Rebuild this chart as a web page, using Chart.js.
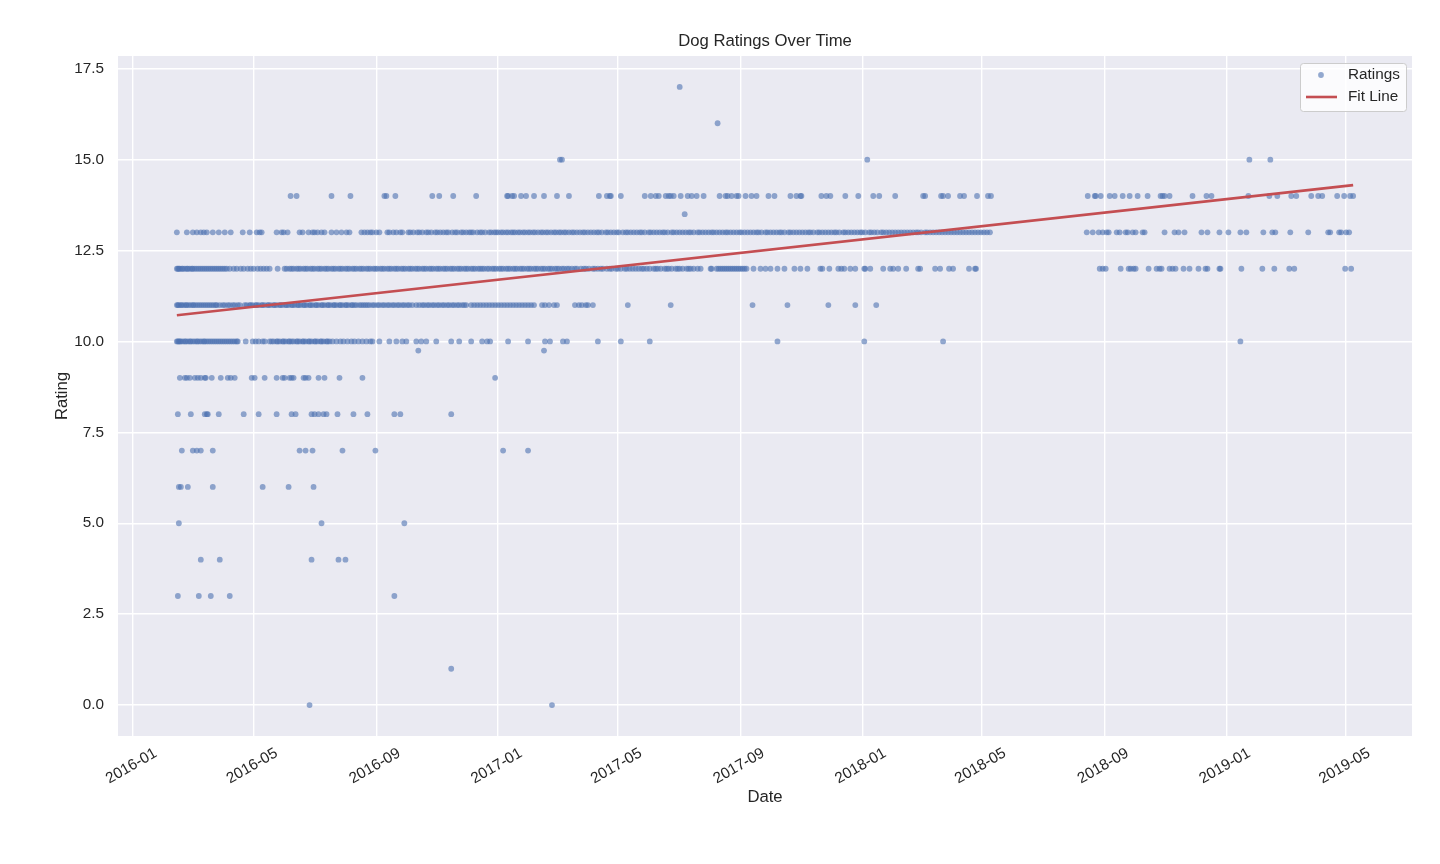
<!DOCTYPE html>
<html>
<head>
<meta charset="utf-8">
<title>Dog Ratings Over Time</title>
<script src="https://cdn.jsdelivr.net/npm/chart.js@4.4.1/dist/chart.umd.min.js"></script>
<style>
  html, body { margin: 0; padding: 0; background: #fff; }
  #wrap { width: 1440px; height: 864px; position: relative; }
</style>
</head>
<body>
<div id="wrap"><canvas id="ratingsChart"></canvas></div>
<script>
// Days are counted from 2016-01-01 (1 px ~ 1 day)
const daysAt0 = [177, 420];
const daysAt1 = [319];
const daysAt3 = [45, 66, 78, 97, 262];
const daysAt4 = [68, 87, 179, 206, 213];
const daysAt5 = [46, 189, 272];
const daysAt6 = [46, 48, 55, 80, 130, 156, 181];
const daysAt7 = [49, 60, 64, 68, 80, 167, 173, 180, 210, 243, 371, 396];
const daysAt8 = [45, 58, 72, 74, 75, 86, 111, 126, 144, 159, 163, 179, 182, 186, 191, 194, 205, 221, 235, 262, 268, 319];
const daysAt9 = [47, 52, 54, 57, 62, 65, 68, 72, 73, 79, 88, 95, 98, 102, 119, 122, 132, 144, 150, 152, 157, 159, 161, 171, 173, 176, 186, 192, 207, 230, 363];
const daysAt975 = [286, 412];
const daysAt10 = [44, 45, 46, 47, 48, 50, 52, 53, 55, 57, 58, 60, 62, 64, 65, 67, 69, 71, 72, 74, 76, 78, 80, 82, 84, 86, 88, 90, 92, 94, 96, 98, 100, 102, 104, 105,
  113, 120, 123, 126, 130, 132,
  137, 139, 141, 144, 145, 147, 150, 151, 153, 156, 157, 159, 161, 164, 165, 167, 170, 171, 173, 176, 177, 179, 182, 183, 185, 188, 189, 191, 194, 195, 197, 200,
  204, 208, 211, 215, 219, 222, 226, 230, 234, 238, 240,
  247, 257, 264, 270, 274, 284, 289, 294, 304, 319, 327, 339, 350, 355, 358, 376, 396, 413, 418, 431, 435, 466, 489, 518, 646, 733, 812, 1110];
const daysAt11 = [44, 45, 46, 48, 49, 51, 53, 54, 56, 58, 60, 61, 63, 65, 67, 69, 71, 73, 75, 77, 79, 81, 83, 84,
  87, 90, 92, 95, 97, 100, 102, 105, 107,
  112, 114, 117, 118, 120, 123, 124, 126, 129, 130, 132, 135, 136, 138, 141, 142, 144, 147, 148, 150, 153, 154, 156, 159, 160, 162, 165, 166, 168, 171, 172, 174,
  177, 178, 180, 183, 184, 186, 189, 190, 192, 195, 196, 198, 201, 202, 204, 207, 208, 210, 213, 214, 216, 219, 220, 222, 224, 227, 229, 231, 233, 235, 237,
  240, 242, 245, 247, 250, 252, 255, 257, 260, 262, 265, 267, 270, 272, 275, 277, 280, 284, 287, 290, 292, 295, 297, 300, 302, 305, 307, 310, 312, 315, 317,
  320, 322, 325, 327, 330, 332, 334,
  339, 342, 345, 348, 351, 354, 357, 360, 363, 366, 369, 372, 375, 378, 381, 384, 387, 390, 393, 396, 399, 402,
  410, 413, 417, 422, 425, 443, 447, 450, 454, 456, 461, 496, 539, 621, 656, 697, 724, 745];
const daysAt12 = [44, 45, 46, 47, 49, 50, 52, 54, 55, 57, 59, 60, 62, 64, 66, 68, 70, 72, 74, 76, 78, 80, 82, 84, 86, 88, 90, 92, 94,
  97, 101, 104, 108, 111, 115, 118, 121, 125, 128, 131, 134, 137, 145,
  152, 154, 157, 159, 161, 164, 166, 168, 171, 173, 175, 178, 180, 182, 185, 187, 189, 192, 194, 196, 199, 201, 203, 206, 208, 210, 213, 215, 217, 220,
  222, 224, 227, 229, 231, 234, 236, 238, 241, 243, 245, 248, 250, 252, 255, 257, 259, 262, 264, 266, 269, 271, 273, 276, 278, 280, 283, 285, 287, 290,
  292, 294, 297, 299, 301, 304, 306, 308, 311, 313, 315, 318, 320, 322, 325, 327, 329, 332, 334, 336, 339, 341, 343, 346, 348, 350, 352,
  355, 357, 360, 362, 364, 367, 369, 371, 374, 376, 378, 381, 383, 385, 388, 390, 392, 395, 397, 399, 402, 404, 406, 409, 411, 413, 416, 418, 420,
  423, 425, 427, 430, 432, 435, 437,
  440, 443, 445, 449, 452, 454, 457, 461, 463, 466, 469, 471, 475, 478, 480, 484, 486, 489, 493, 495, 498, 501, 504, 507, 510, 512, 515, 518, 522,
  524, 526, 529, 533, 535, 537, 540, 544, 546, 548, 551, 555, 557, 559, 562, 566, 569,
  579, 580, 585, 587, 589, 591, 593, 595, 597, 599, 601, 603, 605, 607, 609, 611, 613, 615, 622, 629, 634, 639, 646, 653, 663, 669, 676, 689, 691,
  698, 707, 710, 713, 719, 724, 733, 734, 739, 752, 759, 762, 767, 775, 787, 789, 804, 809, 818, 822, 838, 844, 845,
  969, 972, 975, 990, 998, 1000, 1003, 1005, 1018, 1026, 1029, 1031, 1039, 1042, 1045, 1053, 1059, 1068, 1075, 1077, 1089, 1090, 1111, 1132,
  1144, 1159, 1164, 1215, 1221];
const daysAt13 = [44, 54, 60, 64, 68, 71, 74, 80, 86, 92, 98, 110, 117, 124, 127, 129, 144, 149, 151, 155, 167, 170, 176, 180, 182, 185, 189, 192,
  199, 204, 209, 214, 217, 229, 232,
  235, 238, 240, 244, 247, 255, 257, 261, 264, 268, 270, 276, 278, 281, 285, 287, 290, 294, 296, 299, 303, 305, 308, 311, 314, 316, 320, 323, 325,
  329, 331, 334, 337, 339, 341, 345, 348, 350, 353, 357, 359, 362, 364, 366, 369, 371, 374, 376, 379, 381, 383, 386, 388, 391, 393, 396, 398, 401,
  403, 406, 409, 411, 414, 416, 419, 422, 424, 427, 429, 432, 434, 437, 440, 442, 445, 448, 451, 453, 456, 459, 462, 465, 467, 470, 474, 476, 479,
  482, 485, 487, 491, 494, 496, 499, 502, 505, 508, 510, 513, 517, 519, 522, 525, 528, 531, 533, 536, 540, 542, 545, 548, 551, 554, 557, 559, 562,
  566, 568, 571, 574, 577, 580, 582, 585, 588, 591, 594, 596, 599, 602, 605, 608, 610, 613, 616, 619, 622, 625, 627, 630, 634, 636, 639, 642, 645,
  648, 650, 653, 657, 659, 662, 665, 668, 671, 674, 677, 679, 682, 686, 688, 691, 694, 697, 700, 703, 705, 708, 712, 714, 717, 720, 723, 726, 729,
  731, 734, 738, 740, 743, 746, 750, 752, 755, 758, 761, 764, 767, 770, 773, 776, 779, 782, 785, 787, 790, 794, 796, 799, 802, 805, 808, 811, 814,
  817, 820, 823, 826, 829, 832, 835, 838, 841, 844, 847, 850, 853, 856, 859,
  956, 962, 968, 972, 976, 978, 986, 989, 995, 997, 1002, 1005, 1012, 1014, 1034, 1044, 1048, 1054, 1071, 1077, 1089, 1098, 1110, 1116, 1133,
  1142, 1145, 1160, 1178, 1198, 1200, 1209, 1211, 1216, 1219];
const daysAt135 = [553];
const daysAt14 = [158, 164, 199, 218, 252, 254, 263, 300, 307, 321, 344, 375, 376, 380, 382, 389, 394, 402, 412, 425, 437, 467, 475, 478, 479, 489,
  513, 519, 524, 527, 534, 537, 539, 542, 549, 556, 560, 565, 572, 588, 594, 596, 600, 605, 607, 614, 620, 625, 637, 643, 659, 665, 669, 670, 690,
  695, 699, 714, 727, 742, 748, 764, 792, 794, 810, 812, 817, 829, 833, 846, 857, 860, 957, 964, 965, 970, 979, 984, 992, 999, 1007, 1017, 1030,
  1032, 1034, 1039, 1062, 1076, 1081, 1118, 1139, 1147, 1161, 1166, 1181, 1188, 1192, 1207, 1214, 1220, 1223];
const daysAt15 = [428, 430, 736, 1119, 1140];
const daysAt16 = [586];
const daysAt17 = [548];

const ratingLevels = [0, 1, 3, 4, 5, 6, 7, 8, 9, 9.75, 10, 11, 12, 13, 13.5, 14, 15, 16, 17];
const ratingDays = [daysAt0, daysAt1, daysAt3, daysAt4, daysAt5, daysAt6, daysAt7, daysAt8, daysAt9, daysAt975,
  daysAt10, daysAt11, daysAt12, daysAt13, daysAt135, daysAt14, daysAt15, daysAt16, daysAt17];

// linear fit end points
const fitDays = [44, 1223];
const fitValues = [10.72, 14.30];

const xTickLabels = ['2016-01', '2016-05', '2016-09', '2017-01', '2017-05', '2017-09', '2018-01', '2018-05', '2018-09', '2019-01', '2019-05'];
const yTickValues = [0, 2.5, 5, 7.5, 10, 12.5, 15, 17.5];
const chartTitle = 'Dog Ratings Over Time';

const DAY0 = Date.UTC(2016, 0, 1);
function labelToDay(label) {
    const parts = label.split('-');
    return Math.round((Date.UTC(+parts[0], +parts[1] - 1, 1) - DAY0) / 86400000);
}
const xTickDays = xTickLabels.map(labelToDay);

const points = [];
ratingLevels.forEach(function(level, i) {
    ratingDays[i].forEach(function(d) { points.push({ x: d, y: level }); });
});
const fitPoints = fitDays.map(function(d, i) { return { x: d, y: fitValues[i] }; });

const FONT = "'Liberation Sans', Arial, sans-serif";
const TEXT = '#262626';
const DOT = 'rgba(76, 114, 176, 0.6)';
const RED = '#C44E52';

// grey plot background, like seaborn darkgrid
const backgroundPlugin = {
    id: 'bg',
    beforeDraw(chart) {
        const { ctx, chartArea } = chart;
        ctx.save();
        ctx.fillStyle = '#fff';
        ctx.fillRect(0, 0, chart.width, chart.height);
        ctx.fillStyle = '#EAEAF2';
        ctx.fillRect(chartArea.left, chartArea.top, chartArea.right - chartArea.left, chartArea.bottom - chartArea.top);
        ctx.restore();
    }
};

// title centred over the plot area (not the whole canvas)
const titlePlugin = {
    id: 'plotTitle',
    afterDraw(chart) {
        const { ctx, chartArea } = chart;
        ctx.save();
        ctx.font = '16.7px ' + FONT;
        ctx.fillStyle = TEXT;
        ctx.textAlign = 'center';
        ctx.textBaseline = 'middle';
        ctx.fillText(chartTitle, (chartArea.left + chartArea.right) / 2, chartArea.top - 15);
        ctx.restore();
    }
};

// date labels, rotated 30 deg and centred under each tick
const xLabelPlugin = {
    id: 'xlabels',
    afterDraw(chart) {
        const { ctx } = chart;
        const xs = chart.scales.x;
        ctx.save();
        ctx.font = '15.3px ' + FONT;
        ctx.fillStyle = TEXT;
        ctx.textAlign = 'center';
        ctx.textBaseline = 'middle';
        xs.ticks.forEach(function(t, i) {
            const px = xs.getPixelForValue(t.value);
            ctx.save();
            ctx.translate(px - 1.5, chart.chartArea.bottom + 30);
            ctx.rotate(-Math.PI / 6);
            ctx.fillText(xTickLabels[i], 0, 0);
            ctx.restore();
        });
        ctx.restore();
    }
};

// legend box in the upper right corner of the plot
const legendPlugin = {
    id: 'boxLegend',
    afterDraw(chart) {
        const { ctx, chartArea } = chart;
        const w = 106, h = 48;
        const x = chartArea.right - 6 - w, y = chartArea.top + 7;
        ctx.save();
        ctx.beginPath();
        ctx.roundRect(x + 0.5, y + 0.5, w, h, 3);
        ctx.fillStyle = 'rgba(255,255,255,0.8)';
        ctx.fill();
        ctx.strokeStyle = '#CCCCCC';
        ctx.lineWidth = 1;
        ctx.stroke();

        const scatterSet = chart.data.datasets[1];
        const lineSet = chart.data.datasets[0];
        ctx.fillStyle = scatterSet.backgroundColor;
        ctx.beginPath();
        ctx.arc(x + 21, y + 12, scatterSet.pointRadius, 0, Math.PI * 2);
        ctx.fill();

        ctx.strokeStyle = lineSet.borderColor;
        ctx.lineWidth = lineSet.borderWidth;
        ctx.beginPath();
        ctx.moveTo(x + 6, y + 34);
        ctx.lineTo(x + 37, y + 34);
        ctx.stroke();

        ctx.font = '15.3px ' + FONT;
        ctx.fillStyle = TEXT;
        ctx.textAlign = 'left';
        ctx.textBaseline = 'middle';
        ctx.fillText(scatterSet.label, x + 48, y + 12);
        ctx.fillText(lineSet.label, x + 48, y + 34);
        ctx.restore();
    }
};

const ctx = document.getElementById('ratingsChart').getContext('2d');
new Chart(ctx, {
    type: 'scatter',
    data: {
        datasets: [{
            label: 'Fit Line',
            data: fitPoints,
            showLine: true,
            borderColor: RED,
            borderWidth: 2.6,
            pointRadius: 0,
            order: 0
        }, {
            label: 'Ratings',
            data: points,
            backgroundColor: DOT,
            borderWidth: 0,
            pointRadius: 2.9,
            order: 1
        }]
    },
    options: {
        responsive: true,
        maintainAspectRatio: false,
        animation: false,
        devicePixelRatio: 1,
        layout: { padding: { left: 0, right: 28, top: 56, bottom: 0 } },
        plugins: {
            legend: { display: false },
            tooltip: { enabled: false },
            title: { display: false }
        },
        scales: {
            x: {
                type: 'linear',
                min: -15,
                max: 1282,
                afterBuildTicks: function(scale) {
                    scale.ticks = xTickDays.map(function(v) { return { value: v }; });
                },
                afterFit: function(scale) { scale.height = 128; },
                ticks: { display: false },
                grid: { color: '#FFFFFF', lineWidth: 1.4, drawTicks: false },
                border: { display: false },
                title: {
                    display: true,
                    text: 'Date',
                    color: TEXT,
                    font: { family: FONT, size: 16.7 },
                    padding: { top: 0, bottom: 57 }
                }
            },
            y: {
                type: 'linear',
                min: -0.85,
                max: 17.85,
                afterBuildTicks: function(scale) {
                    scale.ticks = yTickValues.map(function(v) { return { value: v }; });
                },
                afterFit: function(scale) { scale.width = 118; },
                ticks: {
                    color: TEXT,
                    padding: 14,
                    font: { family: FONT, size: 15.3 },
                    callback: function(v) { return Number(v).toFixed(1); }
                },
                grid: { color: '#FFFFFF', lineWidth: 1.4, drawTicks: false },
                border: { display: false },
                title: {
                    display: true,
                    text: 'Rating',
                    color: TEXT,
                    font: { family: FONT, size: 16.7 },
                    padding: { top: 52, bottom: 0 }
                }
            }
        }
    },
    plugins: [backgroundPlugin, titlePlugin, xLabelPlugin, legendPlugin]
});
</script>
</body>
</html>
